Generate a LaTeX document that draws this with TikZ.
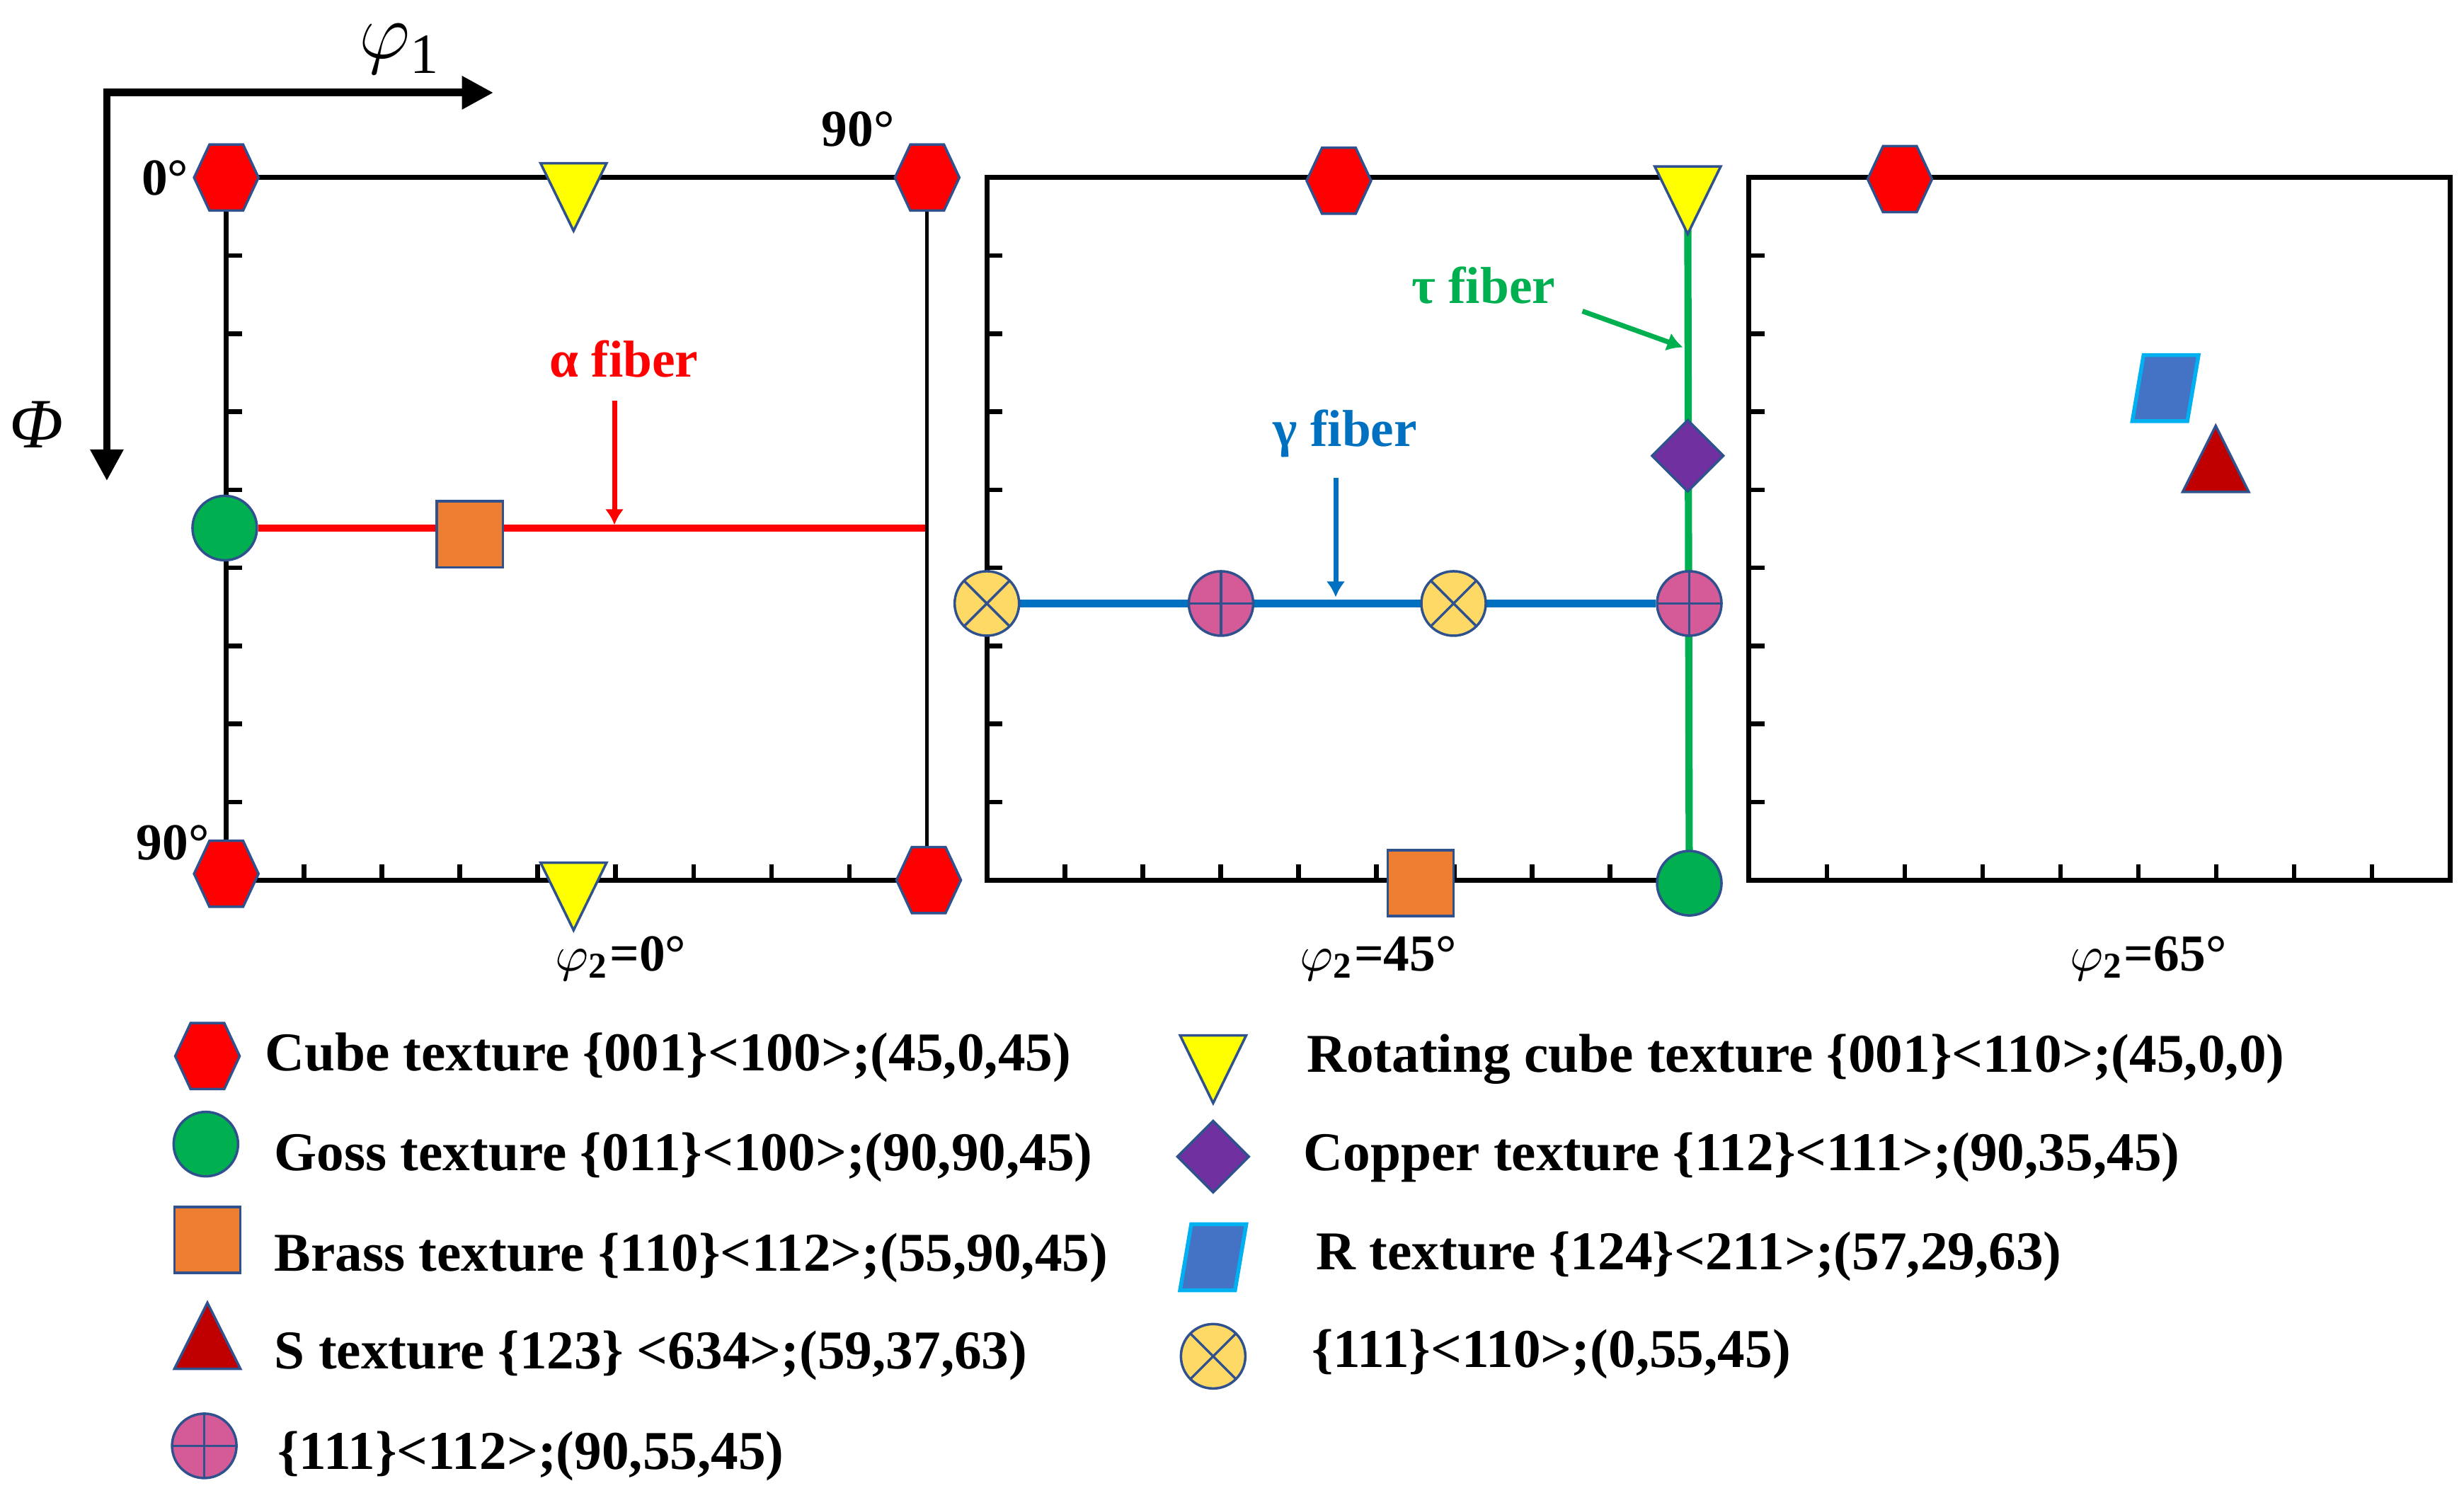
\documentclass[tikz,border=0pt]{standalone}
\usepackage{fontspec}
\setmainfont{Liberation Serif}
\usetikzlibrary{shapes.geometric,shapes.symbols,arrows.meta,backgrounds}

\definecolor{mkline}{HTML}{2F528F}
\definecolor{cubeC}{HTML}{FF0000}
\definecolor{rotC}{HTML}{FFFF00}
\definecolor{gossC}{HTML}{00B050}
\definecolor{brassC}{HTML}{ED7D31}
\definecolor{sC}{HTML}{C00000}
\definecolor{copperC}{HTML}{7030A0}
\definecolor{rC}{HTML}{4472C4}
\definecolor{rLine}{HTML}{00B0F0}
\definecolor{plusC}{HTML}{D45B98}
\definecolor{crossC}{HTML}{FFD966}
\definecolor{gammaC}{HTML}{0070C0}

\begin{document}
\begin{tikzpicture}
  [x=0.1mm,y=-0.1mm,
   mk/.style={draw=mkline,line width=0.45pt,inner sep=0pt},
   cubeN/.style={mk,signal,signal to=east and west,signal pointer angle=130,
     fill=cubeC,minimum width=0.41cm,minimum height=0.42cm},
   rotN/.style={mk,isosceles triangle,isosceles triangle stretches,
     shape border rotate=270,fill=rotC,minimum width=0.42cm,minimum height=0.43cm},
   sN/.style={mk,isosceles triangle,isosceles triangle stretches,
     shape border rotate=90,fill=sC,minimum width=0.42cm,minimum height=0.42cm},
   gossN/.style={mk,circle,fill=gossC,minimum size=0.41cm},
   brassN/.style={mk,rectangle,fill=brassC,minimum size=0.42cm},
   copperN/.style={mk,diamond,fill=copperC,minimum width=0.46cm,minimum height=0.46cm},
   rN/.style={mk,rectangle,xslant=0.17,draw=rLine,line width=0.7pt,fill=rC,
     minimum width=0.35cm,minimum height=0.42cm},
   plusN/.style={mk,circle,fill=plusC,minimum size=0.41cm,
     path picture={\draw[mkline,line width=0.45pt]
       (path picture bounding box.north) -- (path picture bounding box.south)
       (path picture bounding box.west) -- (path picture bounding box.east);}},
   crossN/.style={mk,circle,fill=crossC,minimum size=0.41cm,
     path picture={\draw[mkline,line width=0.45pt]
       (path picture bounding box.north west) -- (path picture bounding box.south east)
       (path picture bounding box.north east) -- (path picture bounding box.south west);}},
   boxL/.style={line width=0.9pt},
   tickL/.style={line width=0.85pt},
   fiber/.style={line width=1.3pt},
   fibArrow/.style={line width=0.9pt,-{Latex[length=0.1cm,width=0.12cm]}},
   degT/.style={anchor=base,inner sep=0pt,font=\fontsize{9.4}{11}\selectfont\bfseries},
   legT/.style={anchor=base west,inner sep=0pt,font=\fontsize{9.9}{12}\selectfont\bfseries}]

  \useasboundingbox (0,0) rectangle (1568,950);

  % axes
  \coordinate (org) at (68,59);
  \coordinate (phiX) at (314,59);
  \coordinate (phiY) at (68,306);
  \draw[line width=1.4pt,{Triangle[length=0.2cm,width=0.2cm]}-{Triangle[length=0.2cm,width=0.2cm]}]
    (phiY) -- (org) -- (phiX);
  \node[anchor=base,inner sep=0pt] (phi1) at (254,37)
    {\fontsize{14}{16}\selectfont$\varphi$\fontsize{10.3}{12}\selectfont\raisebox{-2.7pt}{1}};
  \node (Phi) at (23,270) {\fontsize{12.8}{14}\selectfont\itshape Φ};

  % frames and ticks
  \draw[boxL] (590,113) -- (144,113) -- (144,560) -- (590,560);
  \draw[line width=0.6pt] (590,113) -- (590,560);
  \draw[boxL] (1074,113) -- (628,113) -- (628,560) -- (1074,560);
  \draw[boxL] (1113,113) rectangle (1559,560);
  \foreach \px in {144,628,1113}
    \foreach \k in {1,...,8}{
      \draw[tickL] (\px,113+\k*49.67) -- ++(10,0);
      \draw[tickL] (\px+\k*49.56,560) -- ++(0,-10);
    }

  \node[degT] (d0) at (105,124) {0°};
  \node[degT] (d90a) at (546,93) {90°};
  \node[degT] (d90b) at (110,547) {90°};
  \node[degT] (secA) at (395,618) {$\varphi_{\mathbf{2}}$=0°};
  \node[degT] (secB) at (877,618) {$\varphi_{\mathbf{2}}$=45°};
  \node[degT] (secC) at (1367,618) {$\varphi_{\mathbf{2}}$=65°};

  % phi2 = 0
  \node[cubeN] (cubeA) at (144,113) {};
  \node[cubeN] (cubeB) at (590,113) {};
  \node[cubeN] (cubeC) at (144,556) {};
  \node[cubeN] (cubeD) at (591,560) {};
  \node[rotN] (rotA) at (365,117) {};
  \node[rotN] (rotD) at (365,562) {};
  \node[gossN] (gossA) at (143,336) {};
  \node[brassN] (brassA) at (299,340) {};
  \coordinate (aEnd) at (590,336);

  % phi2 = 45
  \node[cubeN] (cubeE) at (852,115) {};
  \node[rotN] (rotB) at (1074,119) {};
  \node[copperN] (copperA) at (1074,290) {};
  \node[crossN] (crossA) at (628,384) {};
  \node[plusN] (plusA) at (777,384) {};
  \node[crossN] (crossB) at (925,384) {};
  \node[plusN] (plusB) at (1075,384) {};
  \node[brassN] (brassB) at (904,562) {};
  \node[gossN] (gossB) at (1075,562) {};

  % phi2 = 65
  \node[cubeN] (cubeF) at (1209,114) {};
  \node[rN] (rA) at (1378,247) {};
  \node[sN] (sA) at (1410,300) {};

  \begin{scope}[on background layer]
    \draw[fiber,red] (gossA) -- (aEnd);
    \draw[fiber,gammaC] (crossA) -- (plusB);
    \draw[fiber,gossC] (rotB.center) -- (gossB.center);
  \end{scope}

  \node[degT,text=red] (alphaL) at (397,240) {α fiber};
  \node[degT,text=gammaC] (gammaL) at (856,284) {γ fiber};
  \node[degT,text=gossC] (tauL) at (944,193) {τ fiber};
  \coordinate (aS) at (391,255);
  \coordinate (aT) at (391,334);
  \coordinate (gS) at (850,304);
  \coordinate (gT) at (850,380);
  \coordinate (tS) at (1007,198);
  \coordinate (tT) at (1071,221);
  \draw[fibArrow,red] (aS) -- (aT);
  \draw[fibArrow,gammaC] (gS) -- (gT);
  \draw[fibArrow,gossC] (tS) -- (tT);

  % legend
  \node[cubeN] (lgCube) at (132,672) {};
  \node[gossN] (lgGoss) at (131,728) {};
  \node[brassN] (lgBrass) at (132,789) {};
  \node[sN] (lgS) at (132,858) {};
  \node[plusN] (lgPlus) at (130,920) {};
  \node[rotN] (lgRot) at (772,672) {};
  \node[copperN] (lgCopper) at (772,736) {};
  \node[rN] (lgR) at (772,800) {};
  \node[crossN] (lgCross) at (772,863) {};

  \node[legT] (tCube) at (168,681.5) {Cube texture \{001\}<100>;(45,0,45)};
  \node[legT] (tGoss) at (174,745) {Goss texture \{011\}<100>;(90,90,45)};
  \node[legT] (tBrass) at (174,809) {Brass texture \{110\}<112>;(55,90,45)};
  \node[legT] (tS) at (174,871) {S texture \{123\} <634>;(59,37,63)};
  \node[legT] (tPlus) at (176,935) {\{111\}<112>;(90,55,45)};
  \node[legT] (tRot) at (831,682) {Rotating cube texture \{001\}<110>;(45,0,0)};
  \node[legT] (tCopper) at (829,745) {Copper texture \{112\}<111>;(90,35,45)};
  \node[legT] (tR) at (837,808) {R texture \{124\}<211>;(57,29,63)};
  \node[legT] (tCross) at (834,870) {\{111\}<110>;(0,55,45)};

\end{tikzpicture}
\end{document}
